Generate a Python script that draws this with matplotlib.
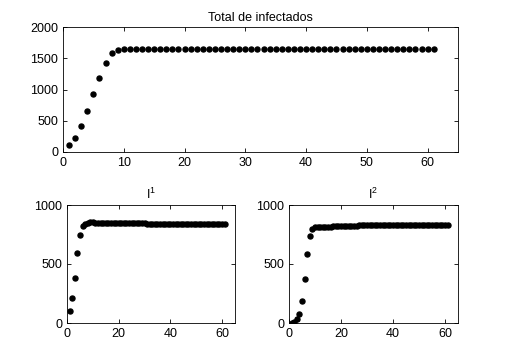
import matplotlib

matplotlib.use("Agg")
import matplotlib.pyplot as plt
import numpy as np

plt.rcParams["font.family"] = ["Liberation Sans", "DejaVu Sans"]
plt.rcParams["font.size"] = 9
plt.rcParams["mathtext.fontset"] = "custom"
plt.rcParams["mathtext.rm"] = "Liberation Sans"

days = np.arange(1, 62)

total_early = [110, 220, 410, 660, 930, 1180, 1430, 1580, 1640]
total = total_early + [1650] * (61 - len(total_early))

i1_early = [100, 210, 385, 595, 750, 820, 840, 850, 855, 855]
i1 = i1_early + [850] * 8 + [845] * 12 + [838] * 31

i2_early = [0, 5, 30, 80, 190, 370, 585, 740, 795, 810]
i2 = i2_early + [815] * 6 + [825] * 10 + [830] * 35

W, H = 505, 361


def style(ax):
    ax.tick_params(direction="in", top=True, right=True, length=3, width=0.6)
    for s in ax.spines.values():
        s.set_linewidth(0.6)


fig = plt.figure(figsize=(W / 100, H / 100), dpi=100)

ax_top = fig.add_axes([63 / W, 1 - 152 / H, (458 - 63) / W, (152 - 27) / H])
ax_top.plot(days, total, "o", color="black", markersize=3.6)
ax_top.set_xlim(0, 65)
ax_top.set_ylim(0, 2000)
ax_top.set_xticks(np.arange(0, 61, 10))
ax_top.set_yticks(np.arange(0, 2001, 500))
ax_top.set_title("Total de infectados", fontsize=9, pad=4)
style(ax_top)

panels = [
    (67, 235, i1, r"$\mathregular{I^1}$"),
    (289, 458, i2, r"$\mathregular{I^2}$"),
]
for left, right, vals, title in panels:
    ax = fig.add_axes([left / W, 1 - 323 / H, (right - left) / W, (323 - 205) / H])
    ax.plot(days, vals, "o", color="black", markersize=3.6)
    ax.set_xlim(0, 65)
    ax.set_ylim(0, 1000)
    ax.set_xticks([0, 20, 40, 60])
    ax.set_yticks([0, 500, 1000])
    ax.set_title(title, fontsize=9, pad=4)
    style(ax)

fig.savefig("out.png", dpi=100)
